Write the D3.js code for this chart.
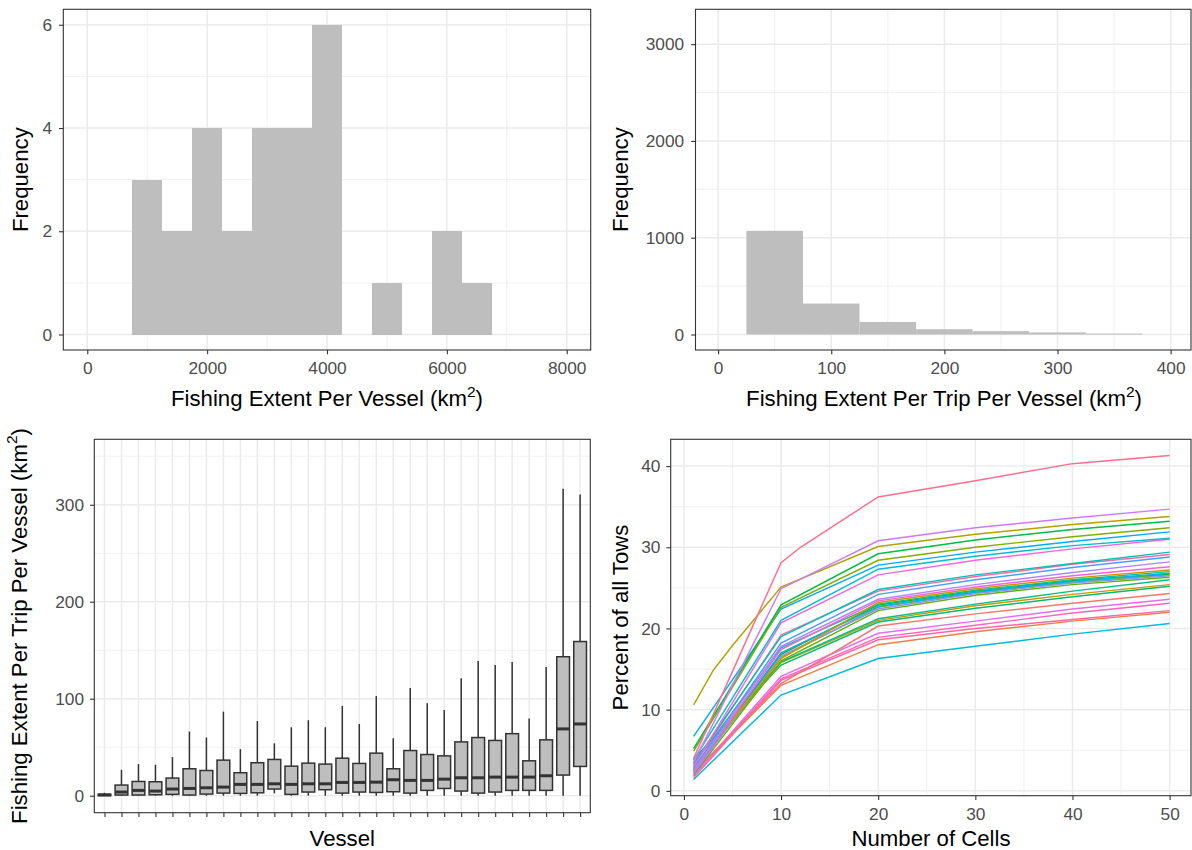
<!DOCTYPE html>
<html>
<head>
<meta charset="utf-8">
<script src="https://cdn.jsdelivr.net/npm/d3@7"></script>
<style>
  body { margin: 0; background: #fff; }
  svg text { font-family: "Liberation Sans", Arial, Helvetica, sans-serif; }
</style>
</head>
<body>
<svg id="fig" width="1192" height="850"></svg>
<script>
// ---------- data ----------
// Fishing extent per vessel: histogram bins (km²) and counts
const vesselBinEdges = [750, 1250, 1750, 2250, 2750, 3250, 3750, 4250, 4750, 5250, 5750, 6250, 6750];
const vesselBinCounts = [3, 2, 4, 2, 4, 4, 6, 0, 1, 0, 2, 1];
const vesselTicks = [0, 2000, 4000, 6000, 8000];
const freqTicksA = [0, 2, 4, 6];

// Fishing extent per trip per vessel: histogram bins (km²) and counts
const tripBinEdges = [25, 75, 125, 175, 225, 275, 325, 375];
const tripBinCounts = [1072, 320, 130, 55, 35, 22, 10];
const tripTicks = [0, 100, 200, 300, 400];
const freqTicksB = [0, 1000, 2000, 3000];

// Per-trip extent by vessel: five-number summaries, vessels ordered by median
const vesselIds = d3.range(1, 30).map(i => "V" + i);
const boxMin = [0, 0, 0, 0, 0, 0, 0, 0, 0, 0, 2.5, 0, 0, 0, 0, 0, 0, 0, 0, 0, 0, 0, 0, 0, 0, 0, 0, 0, 0];
const boxQ1 = [0.2, 0.7, 0.7, 1.0, 1.4, 0.7, 1.7, 2.7, 2.4, 3.0, 6.9, 1.4, 3.8, 6.2, 2.7, 3.8, 3.4, 4.1, 2.7, 5.5, 7.5, 4.8, 2.7, 3.8, 5.5, 5.5, 5.5, 21.3, 30.2];
const boxMedian = [0.8, 3.8, 5.5, 4.8, 6.9, 7.5, 8.2, 8.9, 11.7, 11.7, 12.3, 11.7, 12.3, 12.3, 13.7, 13.7, 14.0, 16.5, 15.8, 15.8, 17.1, 18.5, 18.5, 19.2, 19.2, 19.2, 20.6, 68.9, 74.0];
const boxQ3 = [1.5, 11.0, 14.7, 14.4, 18.2, 27.8, 26.0, 36.7, 23.7, 34.0, 37.4, 30.5, 33.6, 32.6, 38.7, 33.3, 43.9, 27.8, 46.6, 42.5, 41.1, 55.5, 60.0, 57.0, 64.0, 36.0, 57.6, 143.3, 159.0];
const boxMax = [3.0, 26.7, 32.6, 31.9, 39.8, 66.2, 60.0, 86.7, 48.0, 77.0, 54.0, 70.6, 77.8, 70.6, 92.6, 74.0, 102.8, 59.3, 111.0, 95.3, 88.4, 121.0, 139.0, 134.7, 137.8, 79.5, 132.7, 316.4, 310.6];
const extentTicks = [0, 100, 200, 300];

// Cumulative percent of all tows in the top-N cells, one curve per vessel
const cellCounts = [1, 10, 20, 30, 40, 50];
const towPercent = [
  [4.0, 28.1, 36.2, 38.2, 40.3, 41.3],
  [3.5, 24.9, 30.8, 32.4, 33.6, 34.7],
  [10.6, 25.1, 30.1, 31.6, 32.8, 33.8],
  [5.2, 22.9, 29.2, 30.9, 32.2, 33.2],
  [4.9, 22.6, 28.4, 30.0, 31.3, 32.4],
  [6.7, 22.4, 27.8, 29.4, 30.7, 31.9],
  [3.8, 21.0, 27.3, 28.9, 30.2, 31.1],
  [3.0, 20.7, 26.6, 28.4, 29.8, 31.0],
  [3.4, 19.0, 24.8, 26.6, 28.0, 29.4],
  [3.1, 19.2, 24.6, 26.4, 27.9, 29.1],
  [2.8, 18.2, 24.2, 26.0, 27.5, 28.8],
  [2.6, 17.8, 23.6, 25.4, 26.9, 28.2],
  [2.4, 17.4, 23.4, 25.1, 26.5, 27.6],
  [2.9, 16.3, 23.2, 24.9, 26.2, 27.2],
  [3.3, 17.6, 23.0, 24.7, 26.0, 27.0],
  [2.5, 17.0, 22.7, 24.5, 25.8, 26.8],
  [2.2, 16.6, 22.4, 24.3, 25.6, 26.5],
  [2.0, 16.0, 22.2, 24.1, 25.4, 26.3],
  [2.6, 16.8, 22.9, 24.6, 25.9, 26.7],
  [3.6, 15.9, 21.2, 23.0, 24.6, 26.0],
  [2.7, 15.8, 21.0, 22.8, 24.2, 25.4],
  [3.9, 15.5, 20.8, 22.5, 23.9, 25.2],
  [2.3, 13.2, 20.3, 21.8, 23.1, 24.3],
  [1.9, 14.1, 19.4, 20.9, 22.4, 23.6],
  [1.8, 13.8, 18.9, 20.4, 21.9, 23.1],
  [1.6, 13.6, 18.6, 20.0, 21.1, 22.2],
  [2.1, 13.0, 18.0, 19.6, 20.9, 22.0],
  [1.4, 11.8, 16.3, 17.8, 19.3, 20.6],
  [2.4, 16.4, 22.6, 24.4, 25.7, 26.6]
];
// additional sampled cell counts for two vessels: [series index, cells, percent]
const extraTowPoints = [[0, 12, 30.0], [2, 3, 14.8], [2, 5, 17.9]];
const cellTicks = [0, 10, 20, 30, 40, 50];
const percentTicks = [0, 10, 20, 30, 40];

// ---------- styling ----------
const GRID = "#EBEBEB", INK = "#333333", LABEL = "#4D4D4D", BAR = "#BEBEBE";
const TICK_FS = 17.3, TITLE_FS = 22.2;

// palette position of each vessel curve (ggplot-style hue wheel, 29 levels)
const curveHue = [28, 22, 5, 10, 7, 18, 15, 24, 14, 27, 19, 21, 25, 4, 13, 17, 20, 8, 9, 12, 3, 11, 0, 23, 26, 27, 1, 16, 6];

// HCL (polar CIE-Luv) to sRGB, as used by R's hcl()
function hclLuv(h, c, l) {
  const hr = h * Math.PI / 180;
  const U = c * Math.cos(hr), V = c * Math.sin(hr);
  const Xn = 95.047, Yn = 100, Zn = 108.883;
  const Y = l > 8 ? Yn * Math.pow((l + 16) / 116, 3) : Yn * l / 903.3;
  const t = Xn + 15 * Yn + 3 * Zn;
  const un = 4 * Xn / t, vn = 9 * Yn / t;
  const u = U / (13 * l) + un, v = V / (13 * l) + vn;
  const X = 9 * Y * u / (4 * v);
  const Z = Y * (12 - 3 * u - 20 * v) / (4 * v);
  const x = X / 100, y = Y / 100, z = Z / 100;
  const lin = [
    3.240479 * x - 1.537150 * y - 0.498535 * z,
    -0.969256 * x + 1.875992 * y + 0.041556 * z,
    0.055648 * x - 0.204043 * y + 1.057311 * z
  ];
  const gam = q => q <= 0.0031308 ? 12.92 * q : 1.055 * Math.pow(q, 1 / 2.4) - 0.055;
  const [r, g, b] = lin.map(q => Math.round(255 * Math.min(1, Math.max(0, gam(q)))));
  return d3.rgb(r, g, b).formatHex();
}
const huePalette = d3.range(29).map(i => hclLuv(15 + 360 * i / 29, 100, 65));

const svg = d3.select("#fig");

// panel background, grid lines and frame
function panelBack(g, x, y, xMajor, xMinor, yMajor, yMinor) {
  const [xl, xr] = x.range(), [yb, yt] = y.range();
  g.append("rect").attr("x", xl).attr("y", yt).attr("width", xr - xl).attr("height", yb - yt).attr("fill", "#fff");
  const grid = g.append("g").attr("stroke", GRID);
  grid.selectAll(".xm").data(xMinor).join("line").attr("stroke-width", 0.75)
    .attr("x1", d => x(d)).attr("x2", d => x(d)).attr("y1", yt).attr("y2", yb);
  grid.selectAll(".ym").data(yMinor).join("line").attr("stroke-width", 0.75)
    .attr("y1", d => y(d)).attr("y2", d => y(d)).attr("x1", xl).attr("x2", xr);
  grid.selectAll(".xM").data(xMajor).join("line").attr("stroke-width", 1.5)
    .attr("x1", d => x(d)).attr("x2", d => x(d)).attr("y1", yt).attr("y2", yb);
  grid.selectAll(".yM").data(yMajor).join("line").attr("stroke-width", 1.5)
    .attr("y1", d => y(d)).attr("y2", d => y(d)).attr("x1", xl).attr("x2", xr);
}
function panelBorder(g, x, y) {
  const [xl, xr] = x.range(), [yb, yt] = y.range();
  g.append("rect").attr("x", xl).attr("y", yt).attr("width", xr - xl).attr("height", yb - yt)
    .attr("fill", "none").attr("stroke", INK).attr("stroke-width", 1.1);
}
function styleAxis(a, fs) {
  a.attr("font-family", null).attr("font-size", null);
  a.select(".domain").remove();
  a.selectAll(".tick line").attr("stroke", INK).attr("stroke-width", 1.1);
  a.selectAll(".tick text").attr("fill", LABEL).style("font-size", fs + "px");
}
function xAxis(g, x, y, ticks, fmt, pad = 7.2) {
  const a = g.append("g").attr("transform", `translate(0,${y.range()[0]})`)
    .call(d3.axisBottom(x).tickValues(ticks).tickSize(4.3).tickSizeOuter(0).tickPadding(pad).tickFormat(fmt));
  styleAxis(a, TICK_FS);
}
function yAxis(g, x, y, ticks, pad = 6.5) {
  const a = g.append("g").attr("transform", `translate(${x.range()[0]},0)`)
    .call(d3.axisLeft(y).tickValues(ticks).tickSize(4.3).tickSizeOuter(0).tickPadding(pad).tickFormat(d3.format("d")));
  styleAxis(a, TICK_FS);
}
// axis title, with optional km² unit (superscript)
function title(g, text, cx, cy, rotate, withUnit) {
  const fs = TITLE_FS;
  const t = g.append("text").attr("text-anchor", "middle").attr("fill", "#000").style("font-size", fs + "px")
    .attr("transform", `translate(${cx},${cy})` + (rotate ? " rotate(-90)" : ""));
  t.append("tspan").text(text);
  if (withUnit) {
    t.append("tspan").text(" (km");
    t.append("tspan").text("2").style("font-size", (fs * 0.7) + "px").attr("dy", -fs * 0.42);
    t.append("tspan").text(")").attr("dy", fs * 0.42);
  }
}

// ---------- panel A: extent per vessel ----------
{
  const g = svg.append("g");
  const x = d3.scaleLinear().domain([-400, 8400]).range([63.3, 590.7]);
  const y = d3.scaleLinear().domain([-0.3, 6.3]).range([350, 9.3]);
  panelBack(g, x, y, vesselTicks, [1000, 3000, 5000, 7000], freqTicksA, [1, 3, 5]);
  const bins = vesselBinCounts.map((c, i) => ({ x0: vesselBinEdges[i], x1: vesselBinEdges[i + 1], n: c }));
  g.append("g").selectAll("rect").data(bins.filter(d => d.n > 0)).join("rect")
    .attr("x", d => x(d.x0)).attr("width", d => x(d.x1) - x(d.x0))
    .attr("y", d => y(d.n)).attr("height", d => y(0) - y(d.n))
    .attr("fill", BAR).attr("shape-rendering", "crispEdges");
  panelBorder(g, x, y);
  xAxis(g, x, y, vesselTicks, d3.format("d"));
  yAxis(g, x, y, freqTicksA, 7);
  title(g, "Fishing Extent Per Vessel", 327, 406, false, true);
  title(g, "Frequency", 27.5, 179.7, true, false);
}

// ---------- panel B: extent per trip per vessel ----------
{
  const g = svg.append("g");
  const x = d3.scaleLinear().domain([-20, 418]).range([695.5, 1191]);
  const y = d3.scaleLinear().domain([-160, 3360]).range([350, 9.3]);
  panelBack(g, x, y, tripTicks, [50, 150, 250, 350], freqTicksB, [500, 1500, 2500]);
  const bins = tripBinCounts.map((c, i) => ({ x0: tripBinEdges[i], x1: tripBinEdges[i + 1], n: c }));
  g.append("g").selectAll("rect").data(bins).join("rect")
    .attr("x", d => x(d.x0)).attr("width", d => x(d.x1) - x(d.x0))
    .attr("y", d => y(d.n)).attr("height", d => y(0) - y(d.n))
    .attr("fill", BAR);
  panelBorder(g, x, y);
  xAxis(g, x, y, tripTicks, d3.format("d"));
  yAxis(g, x, y, freqTicksB, 7);
  title(g, "Fishing Extent Per Trip Per Vessel", 944, 406, false, true);
  title(g, "Frequency", 628, 179.7, true, false);
}

// ---------- panel C: per-trip extent by vessel ----------
{
  const g = svg.append("g");
  const x = d3.scalePoint().domain(vesselIds).range([94.3, 590.3]).padding(0.6);
  const y = d3.scaleLinear().domain([-17.5, 367.5]).range([812.7, 439.3]);
  panelBack(g, x, y, vesselIds, [], extentTicks, [50, 150, 250, 350]);
  const bw = x.step() * 0.75;
  const boxes = vesselIds.map((id, i) => ({
    id, lo: boxMin[i], q1: boxQ1[i], med: boxMedian[i], q3: boxQ3[i], hi: boxMax[i]
  }));
  const b = g.append("g").selectAll("g").data(boxes).join("g");
  b.append("line").attr("x1", d => x(d.id)).attr("x2", d => x(d.id))
    .attr("y1", d => y(d.hi)).attr("y2", d => y(d.q3)).attr("stroke", INK).attr("stroke-width", 1.5);
  b.append("line").attr("x1", d => x(d.id)).attr("x2", d => x(d.id))
    .attr("y1", d => y(d.q1)).attr("y2", d => y(d.lo)).attr("stroke", INK).attr("stroke-width", 1.5);
  b.append("rect").attr("x", d => x(d.id) - bw / 2).attr("width", bw)
    .attr("y", d => y(d.q3)).attr("height", d => y(d.q1) - y(d.q3))
    .attr("fill", BAR).attr("stroke", INK).attr("stroke-width", 1.5);
  b.append("line").attr("x1", d => x(d.id) - bw / 2).attr("x2", d => x(d.id) + bw / 2)
    .attr("y1", d => y(d.med)).attr("y2", d => y(d.med)).attr("stroke", INK).attr("stroke-width", 3);
  panelBorder(g, x, y);
  xAxis(g, x, y, vesselIds, () => "");
  yAxis(g, x, y, extentTicks, 6);
  title(g, "Vessel", 342.3, 846, false, false);
  title(g, "Fishing Extent Per Trip Per Vessel", 26.5, 626, true, true);
}

// ---------- panel D: cumulative share of tows ----------
{
  const g = svg.append("g");
  const x = d3.scaleLinear().domain([-1.36, 52.2]).range([670.7, 1191]);
  const y = d3.scaleLinear().domain([-0.6, 43.3]).range([795.7, 439.3]);
  panelBack(g, x, y, cellTicks, [5, 15, 25, 35, 45], percentTicks, [5, 15, 25, 35]);
  const series = towPercent.map((vals, i) => {
    const pts = cellCounts.map((c, j) => [c, vals[j]]);
    extraTowPoints.filter(e => e[0] === i).forEach(e => pts.push([e[1], e[2]]));
    pts.sort((a, b) => a[0] - b[0]);
    return { i, pts };
  });
  const line = d3.line().x(d => x(d[0])).y(d => y(d[1]));
  g.append("g").selectAll("path").data(series.slice().reverse()).join("path")
    .attr("d", d => line(d.pts)).attr("fill", "none")
    .attr("stroke", d => huePalette[curveHue[d.i]]).attr("stroke-width", 1.45);
  panelBorder(g, x, y);
  xAxis(g, x, y, cellTicks, d3.format("d"), 7.6);
  yAxis(g, x, y, percentTicks, 6);
  title(g, "Number of Cells", 931, 846, false, false);
  title(g, "Percent of all Tows", 628, 617.5, true, false);
}
</script>
</body>
</html>
